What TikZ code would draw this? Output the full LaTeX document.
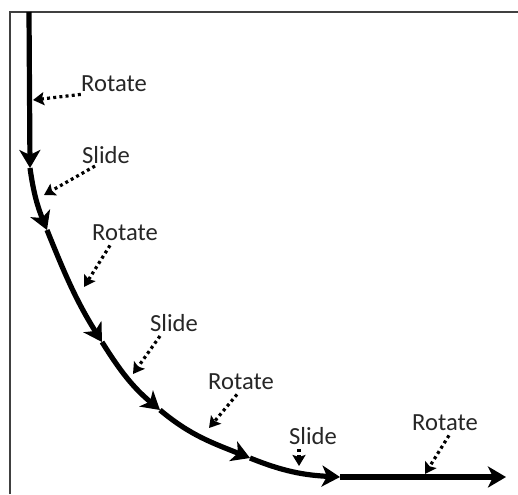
\documentclass[tikz,border=0pt]{standalone}
\usepackage{fontspec}
\setmainfont{Carlito}
\usetikzlibrary{arrows.meta, positioning}

\begin{document}
\begin{tikzpicture}[
    x=0.5pt, y=-0.5pt,
    frame/.style={draw=black!75, line width=1.1pt},
    motion/.style={line width=2.6pt, -{Stealth[length=9pt, width=10.5pt, inset=2.5pt]}},
    lbl/.style={font=\fontsize{12.3}{14}\selectfont, inner sep=0pt, text=black!85},
    hint/.style={line width=1.6pt, dash pattern=on 1.5pt off 1.6pt, -{Stealth[length=5.5pt, width=6.5pt, inset=1pt]}}
]
\useasboundingbox (0,0) rectangle (518,494);

% Rahmen
\draw[frame] (10,494) -- (10,12) -- (518,12);

% Bahnpunkte
\coordinate (p0) at (29,12);
\coordinate (p1) at (30,168);
\coordinate (p2) at (47,230);
\coordinate (p3) at (102,342);
\coordinate (p4) at (160,410);
\coordinate (p5) at (250,458);
\coordinate (p6) at (340,477);
\coordinate (p7) at (506,477);

% Bahn (Winkel auf der Seite, nicht im gespiegelten System)
\draw[motion] (p0) -- (p1);
\draw[motion] (p1) to[out=-82, in=112] (p2);
\draw[motion] (p2) to[out=-68, in=122] (p3);
\draw[motion] (p3) to[out=-58, in=140] (p4);
\draw[motion] (p4) to[out=-40, in=158] (p5);
\draw[motion] (p5) to[out=-22, in=177] (p6);
\draw[motion] (p6) -- (p7);

% Beschriftungen
\node[lbl] (l1) at (114,84) {Rotate};
\node[lbl] (l2) at (106,155) {Slide};
\node[lbl] (l3) at (125,233) {Rotate};
\node[lbl] (l4) at (174,323) {Slide};
\node[lbl] (l5) at (241,382) {Rotate};
\node[lbl] (l6) at (313,436) {Slide};
\node[lbl] (l7) at (445,423) {Rotate};

% Zielpunkte
\coordinate (t1) at (33,100);
\coordinate (t2) at (44,195);
\coordinate (t3) at (84,287);
\coordinate (t4) at (133,374);
\coordinate (t5) at (209,428);
\coordinate (t6) at (299,466);
\coordinate (t7) at (425,474);

% Hinweispfeile
\draw[hint] ([yshift=-1pt]l1.south west) -- (t1);
\draw[hint] ([xshift=-5.5pt, yshift=-1pt]l2.south) -- (t2);
\draw[hint] ([xshift=-7.5pt, yshift=-2pt]l3.south) -- (t3);
\draw[hint] ([xshift=-7pt, yshift=-2pt]l4.south) -- (t4);
\draw[hint] ([xshift=-2pt, yshift=-2pt]l5.south) -- (t5);
\draw[hint] ([xshift=-7pt, yshift=-2pt]l6.south) -- (t6);
\draw[hint] ([xshift=2pt, yshift=-2pt]l7.south) -- (t7);

\end{tikzpicture}
\end{document}
